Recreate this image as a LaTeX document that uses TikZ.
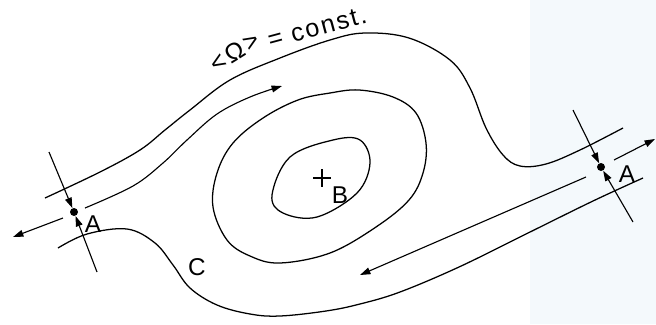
\documentclass[tikz,border=0pt]{standalone}
\usepackage{fontspec}
\setmainfont{Liberation Sans}
\usetikzlibrary{arrows.meta}

\definecolor{paleblue}{RGB}{244,249,252}

\begin{document}
\begin{tikzpicture}[x=0.025cm, y=-0.025cm,
    every node/.style={font=\LARGE},
    cnt/.style={line width=0.9pt, smooth, tension=0.6},
    e/.style={line width=0.8pt, -{Triangle[length=2.6mm, width=1.7mm]}},
    pt/.style={circle, fill, inner sep=0pt, minimum size=2mm},
    lbl/.style={inner sep=1pt},
    tag/.style={inner sep=0pt, anchor=base west, font=\fontsize{18}{22}\selectfont},
  ]
  \useasboundingbox (0,0) rectangle (656,324);
  \fill[paleblue] (530,0) rectangle (656,324);

  % saddle points and centre
  \node[pt] (al) at (74,212) {};
  \node[pt] (ar) at (601,167) {};
  \node[lbl] (la) at (93,224) {A};
  \node[lbl] (ra) at (627,174) {A};
  \coordinate (cb) at (322,178);
  \draw[line width=0.8pt] (cb) +(-9,0) -- +(9,0) (cb) +(0,-9) -- +(0,9);
  \node[lbl] (lb) at (340,195) {B};
  \node[lbl] (lc) at (197,267) {C};
  \node[tag, rotate=32] (om) at (216,74) {\addfontfeatures{LetterSpace=12}<Ω>};
  \node[tag, rotate=15] (cs) at (270,49) {\addfontfeatures{LetterSpace=8}= const.};

  % contours
  \draw[cnt] plot coordinates {(45,198) (100,172) (140,150) (165,130) (190,110)
    (230,80) (280,58) (330,40) (365,33) (409,38) (450,60) (470,88) (486,128)
    (503,155) (520,166) (546,164) (580,150) (623,128)};
  \draw[cnt] plot coordinates {(58,248) (87,234) (127,229) (155,243) (173,265)
    (190,288) (217,305) (250,314) (280,316) (326,311) (360,304) (400,292)
    (459,267) (526,234) (593,201) (643,178)};
  \draw[cnt] plot[smooth cycle] coordinates {(330,93) (359,90) (393,97) (416,113)
    (426,143) (423,173) (409,200) (376,227) (330,253) (280,263) (250,256)
    (227,240) (213,207) (217,173) (233,143) (263,118) (298,100)};
  \draw[cnt] plot[smooth cycle] coordinates {(272,195) (290,157) (333,140)
    (360,140) (370,163) (357,193) (317,217) (283,213)};

  % flow arrows
  \coordinate (s1) at (85,208);
  \coordinate (t1) at (282,86);
  \draw[e, smooth, tension=0.6] plot coordinates {(s1) (133,186) (163,163)
    (187,140) (217,114) (250,97) (t1)};
  \coordinate (s2) at (586,177);
  \coordinate (t2) at (360,275);
  \draw[e] (s2) -- (t2);
  \coordinate (s3) at (63,218);
  \coordinate (t3) at (13,237);
  \draw[e] (s3) -- (t3);
  \coordinate (s4) at (614,160);
  \coordinate (t4) at (655,139);
  \draw[e] (s4) -- (t4);

  % in-going arrows at A
  \coordinate (p1) at (49,152);
  \coordinate (p2) at (97,272);
  \draw[e] (p1) -- (al);
  \draw[e] (p2) -- (al);
  \coordinate (q1) at (573,110);
  \coordinate (q2) at (633,222);
  \draw[e] (q1) -- (ar);
  \draw[e] (q2) -- (ar);
\end{tikzpicture}
\end{document}
